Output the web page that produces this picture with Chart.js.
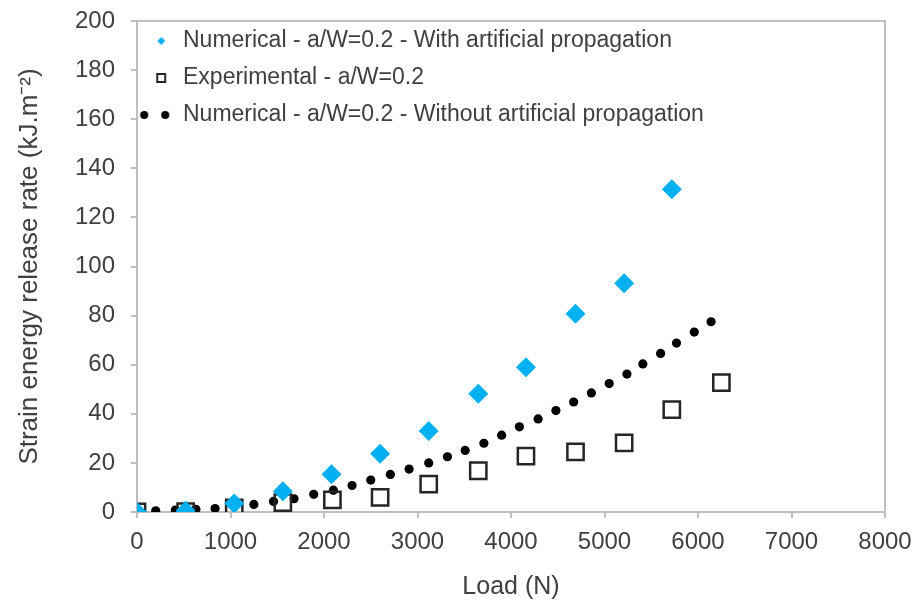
<!DOCTYPE html>
<html>
<head>
<meta charset="utf-8">
<script src="https://cdn.jsdelivr.net/npm/chart.js@4"></script>
<style>
  body { margin: 0; background: #fff; }
</style>
</head>
<body>
<canvas id="gGraph" width="919" height="606"></canvas>
<script>
const loadWith = [0, 520, 1040, 1560, 2080, 2600, 3120, 3650, 4160, 4690, 5210, 5720];
const gWith = [0, 0.5, 3.5, 8.5, 15.4, 23.7, 33, 48.2, 59, 80.8, 93.2, 131.5];

const loadExp = [0, 520, 1040, 1560, 2090, 2600, 3120, 3650, 4160, 4690, 5210, 5720, 6250];
const gExp = [0, 0.2, 1.7, 3.8, 4.9, 6.0, 11.4, 16.8, 22.8, 24.5, 28.2, 41.7, 52.7];

const loadNoProp = [0, 200, 410, 630, 835, 1040, 1250, 1460, 1680, 1890, 2100, 2300, 2500, 2710, 2910, 3120,
  3320, 3510, 3710, 3900, 4090, 4290, 4480, 4670, 4860, 5050, 5240, 5410, 5600, 5770, 5960, 6140];
const gNoProp = [0, 0.5, 0.8, 1.1, 1.4, 2.2, 3.1, 4.3, 5.4, 7.2, 8.9, 10.8, 13.0, 15.3, 17.5, 20.0,
  22.5, 25.1, 28.0, 31.3, 34.7, 37.9, 41.3, 44.8, 48.5, 52.3, 56.2, 60.3, 64.6, 68.8, 73.3, 77.5];

const seriesLabels = [
  "Numerical - a/W=0.2 - With artificial propagation",
  "Experimental - a/W=0.2",
  "Numerical - a/W=0.2 - Without artificial propagation",
];

const toPoints = (xs, ys) => xs.map((x, i) => ({ x: x, y: ys[i] }));

const blue = "#00b0f0";
const axisGrey = "#bfbfbf";
const textGrey = "#404040";
const fontFamily = "'Liberation Sans', Arial, sans-serif";

// small legend markers
function legendIcon(kind) {
  const c = document.createElement("canvas");
  const ctx = c.getContext("2d");
  if (kind === "diamond") {
    c.width = 9; c.height = 9;
    ctx.fillStyle = blue;
    ctx.beginPath();
    ctx.moveTo(4.5, 0.5); ctx.lineTo(8.5, 4.5); ctx.lineTo(4.5, 8.5); ctx.lineTo(0.5, 4.5);
    ctx.closePath(); ctx.fill();
  } else if (kind === "square") {
    c.width = 12; c.height = 12;
    ctx.strokeStyle = "#262626";
    ctx.lineWidth = 2;
    ctx.strokeRect(2, 2, 8, 8);
  } else {
    c.width = 44; c.height = 10;
    ctx.fillStyle = "#000";
    ctx.beginPath(); ctx.arc(5, 5, 4, 0, Math.PI * 2); ctx.fill();
    ctx.beginPath(); ctx.arc(26, 5, 4, 0, Math.PI * 2); ctx.fill();
  }
  return c;
}
const legendIcons = [legendIcon("diamond"), legendIcon("square"), legendIcon("dots")];

const plotFrame = {
  id: "plotFrame",
  beforeDatasetsDraw(chart) {
    const { ctx, chartArea } = chart;
    ctx.save();
    ctx.strokeStyle = axisGrey;
    ctx.lineWidth = 2;
    ctx.beginPath();
    ctx.moveTo(chartArea.left, chartArea.top);
    ctx.lineTo(chartArea.right, chartArea.top);
    ctx.lineTo(chartArea.right, chartArea.bottom);
    ctx.stroke();
    ctx.restore();
  },
  afterLayout(chart) {
    // nudge legend up a little inside the plot
    if (chart.legend) chart.legend.top = chart.chartArea.top - 5.5;
  },
};

const plainNumber = (value) => String(value);

const canvas = document.querySelector("#gGraph");
const gChart = new Chart(canvas, {
  type: "scatter",
  data: {
    datasets: [
      {
        label: seriesLabels[0],
        data: toPoints(loadWith, gWith),
        pointStyle: "rectRot",
        pointRadius: 10,
        pointBackgroundColor: blue,
        pointBorderWidth: 0,
        pointBorderColor: blue,
      },
      {
        label: seriesLabels[1],
        data: toPoints(loadExp, gExp),
        pointStyle: "rect",
        pointRadius: 11.5,
        pointBackgroundColor: "rgba(255,255,255,0)",
        pointBorderColor: "#262626",
        pointBorderWidth: 2.5,
      },
      {
        label: seriesLabels[2],
        data: toPoints(loadNoProp, gNoProp),
        pointStyle: "circle",
        pointRadius: 4.6,
        pointBackgroundColor: "#000",
        pointBorderWidth: 0,
      },
    ],
  },
  options: {
    responsive: false,
    animation: false,
    events: [],
    layout: {
      padding: { top: 21, right: 34, left: 0, bottom: 0 },
    },
    scales: {
      x: {
        type: "linear",
        min: 0,
        max: 8000,
        ticks: {
          stepSize: 1000,
          padding: 10,
          color: textGrey,
          font: { size: 24, family: fontFamily },
          maxRotation: 0,
          callback: plainNumber,
        },
        grid: {
          drawOnChartArea: false,
          drawTicks: true,
          tickLength: 6,
          color: axisGrey,
          lineWidth: 2,
        },
        border: { color: axisGrey, width: 2 },
        title: {
          display: true,
          text: "Load (N)",
          color: textGrey,
          font: { size: 25, family: fontFamily },
          padding: { top: 0, bottom: 4 },
        },
        afterFit(scale) {
          scale.height = 94;
          scale.paddingLeft = 0;
          scale.paddingRight = 0;
        },
      },
      y: {
        type: "linear",
        min: 0,
        max: 200,
        ticks: {
          stepSize: 20,
          padding: 16,
          color: textGrey,
          font: { size: 24, family: fontFamily },
          callback: plainNumber,
        },
        grid: {
          drawOnChartArea: false,
          drawTicks: true,
          tickLength: 6,
          color: axisGrey,
          lineWidth: 2,
        },
        border: { color: axisGrey, width: 2 },
        title: {
          display: true,
          text: "Strain energy release rate (kJ.m\u207B\u00B2)",
          color: textGrey,
          font: { size: 26, family: fontFamily },
          padding: { top: 14, bottom: 0 },
        },
        afterFit(scale) {
          scale.width = 137;
          scale.paddingTop = 0;
          scale.paddingBottom = 0;
        },
      },
    },
    plugins: {
      legend: {
        display: true,
        position: "chartArea",
        align: "start",
        labels: {
          usePointStyle: true,
          pointStyleWidth: 20.5,
          padding: 14,
          color: textGrey,
          font: { size: 23, family: fontFamily },
          generateLabels(chart) {
            return chart.data.datasets.map((ds, i) => ({
              text: ds.label,
              pointStyle: legendIcons[i],
              fillStyle: "#000",
              strokeStyle: "#000",
              lineWidth: 0,
              fontColor: textGrey,
              hidden: false,
              datasetIndex: i,
            }));
          },
        },
      },
      tooltip: { enabled: false },
    },
  },
  plugins: [plotFrame],
});
</script>
</body>
</html>
